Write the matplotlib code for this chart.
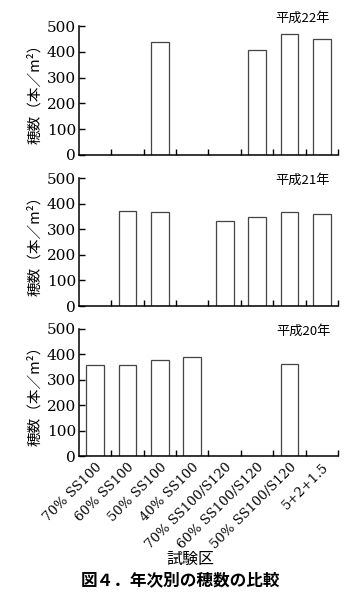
import matplotlib.pyplot as plt
import numpy as np

plt.rcParams['font.family'] = ['DejaVu Serif', 'Noto Sans CJK JP']

# 試験区
cats = ['70% SS100', '60% SS100', '50% SS100', '40% SS100',
        '70% SS100/S120', '60% SS100/S120', '50% SS100/S120', '5+2+1.5']

# 穂数（本/m²）、欠測は nan
h22 = [np.nan, np.nan, 440, np.nan, np.nan, 408, 468, 452]
h21 = [np.nan, 372, 368, np.nan, 331, 349, 368, 358]
h20 = [360, 360, 376, 390, np.nan, np.nan, 364, np.nan]

years = ['平成22年', '平成21年', '平成20年']
series = [h22, h21, h20]

fig = plt.figure(figsize=(3.6, 6.09), dpi=100)

# 各パネルの位置 (left, bottom, width, height)
boxes = [(0.219, 0.7455, 0.72, 0.2115),
         (0.219, 0.4975, 0.72, 0.2102),
         (0.219, 0.2512, 0.72, 0.2086)]
lab_y = [1.06, 0.985, 0.98]

x = np.arange(len(cats))
jp = ['Noto Sans CJK JP', 'DejaVu Sans']

for i, (vals, yr) in enumerate(zip(series, years)):
    ax = fig.add_axes(boxes[i])
    v = np.array(vals, dtype=float)
    ok = ~np.isnan(v)
    ax.bar(x[ok], v[ok], width=0.55, color='white', edgecolor='#444444', linewidth=0.9)
    ax.set_xlim(-0.5, len(cats) - 0.5)
    ax.set_ylim(0, 500)
    ax.set_yticks([0, 100, 200, 300, 400, 500])
    ax.spines['top'].set_visible(False)
    ax.spines['right'].set_visible(False)
    ax.spines['left'].set_linewidth(1.1)
    ax.spines['bottom'].set_linewidth(1.1)
    # 目盛は区切り位置に内向き
    ax.set_xticks(np.arange(len(cats)) + 0.5)
    ax.set_xticks(x, minor=True)
    ax.tick_params(axis='x', which='major', direction='in', length=4, width=1)
    ax.tick_params(axis='x', which='minor', length=0)
    ax.tick_params(axis='y', direction='in', length=4, width=1, labelsize=11, pad=2)
    for t in ax.get_yticklabels():
        t.set_family('DejaVu Serif')
    ax.set_xticklabels([])
    if i == 2:
        ax.set_xticklabels(cats, minor=True, rotation=45, ha='right',
                           rotation_mode='anchor', fontsize=9.5)
        ax.tick_params(axis='x', which='minor', pad=3)
    ax.set_ylabel('穂数（本／m²）', family=jp, fontsize=10.5, labelpad=3)
    ax.text(0.97, lab_y[i], yr, transform=ax.transAxes, ha='right', va='center',
            family=jp, fontsize=9.5)

fig.text(0.53, 0.081, '試験区', ha='center', va='center', family=jp, fontsize=11.5)
fig.text(0.5, 0.047, '図４．年次別の穂数の比較', ha='center', va='center',
         family=jp, fontsize=12, fontweight='bold')

fig.savefig('out.png', dpi=100)
